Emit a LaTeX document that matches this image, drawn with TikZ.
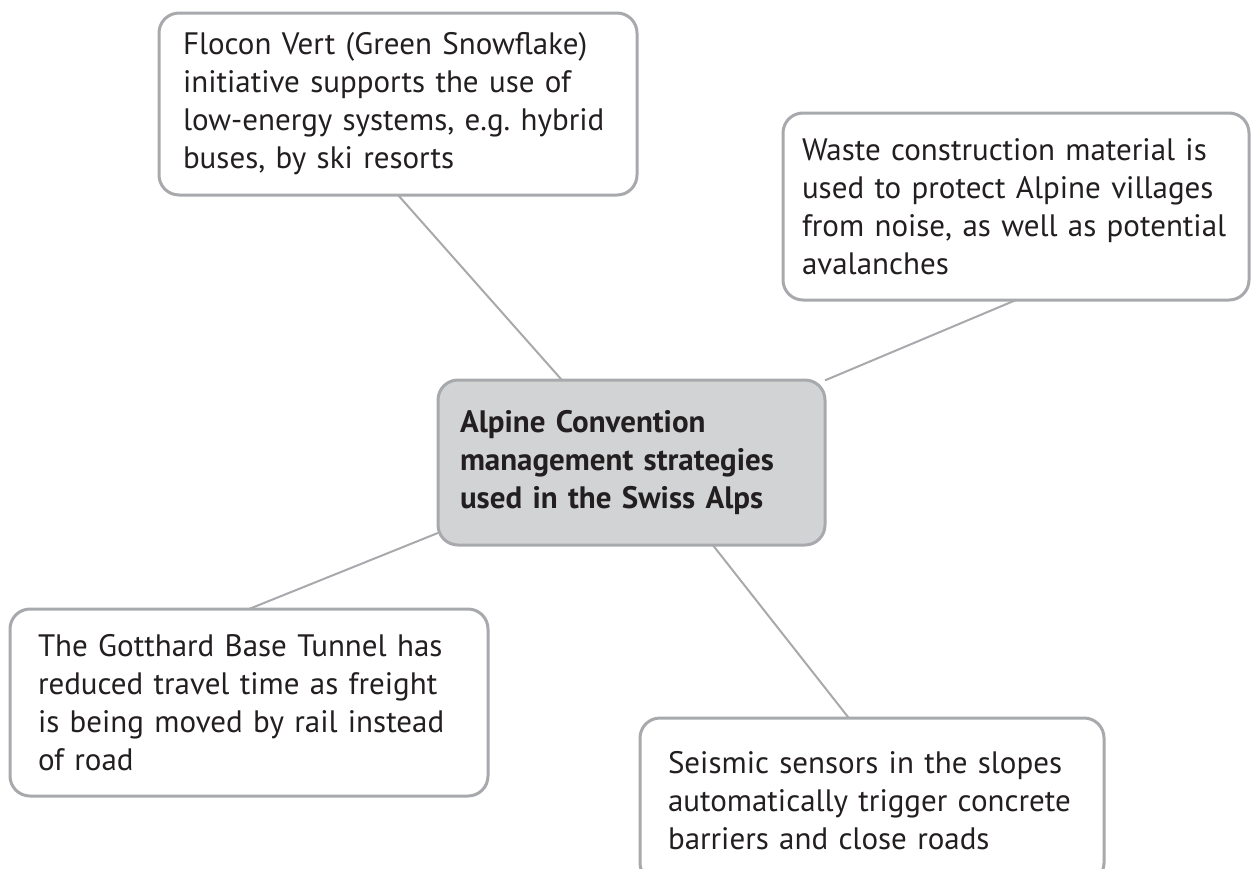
\documentclass[tikz,border=0pt]{standalone}
\usepackage{fontspec}
\setmainfont{PT Sans}
\usetikzlibrary{calc}
\definecolor{boxline}{HTML}{A7A9AC}
\definecolor{hubfill}{HTML}{D1D3D4}
\definecolor{inkgray}{HTML}{231F20}
\tikzset{
	ideabox/.style={draw=boxline, line width=1.5pt, rounded corners=10pt, fill=white,
		anchor=north west, align=left, inner ysep=0pt, outer sep=0pt, text=inkgray,
		font=\fontsize{15.5}{19}\selectfont},
	hubbox/.style={ideabox, fill=hubfill, font=\fontsize{15.5}{19}\selectfont\bfseries},
	link/.style={draw=boxline, line width=1pt}
}
\frenchspacing

\begin{document}
\begin{tikzpicture}[x=0.5pt,y=-0.5pt]
			%%%%% START %%%%%
			\def\tall{93.5pt}
			\def\short{82.5pt}
			
			\useasboundingbox (0,0) rectangle (1251,868);
			
			\node[ideabox, inner xsep=12pt, text width=215pt, minimum height=91pt] (flocon) at (159,13)
				{Flocon Vert (Green Snowflake)\\initiative supports the use of\\low-energy systems, e.g. hybrid\\buses, by ski resorts};
			\node[ideabox, inner xsep=9.5pt, text width=214pt, minimum height=\tall] (waste) at (783,113)
				{Waste construction material is\\used to protect Alpine villages\\from noise, as well as potential\\avalanches};
			\node[hubbox, inner xsep=11pt, text width=171.5pt, minimum height=\short] (hub) at (438,380)
				{Alpine Convention\\management strategies\\used in the Swiss Alps};
			\node[ideabox, inner xsep=14pt, text width=211pt, minimum height=\tall] (gotthard) at (10,609)
				{The Gotthard Base Tunnel has\\reduced travel time as freight\\is being moved by rail instead\\of road};
			\node[ideabox, inner xsep=14pt, text width=204pt, minimum height=\short] (seismic) at (640,718)
				{Seismic sensors in the slopes\\automatically trigger concrete\\barriers and close roads};
			
			\draw[link] (flocon.south) -- ($(hub.north west)!0.32!(hub.north east)$);
			\draw[link] (waste.south) -- (hub.23);
			\draw[link] (hub.200) -- (gotthard.north);
			\draw[link] ($(hub.south west)!0.71!(hub.south east)$) -- ($(seismic.north west)!0.45!(seismic.north east)$);
			%%%%% END %%%%%
\end{tikzpicture}
\end{document}
